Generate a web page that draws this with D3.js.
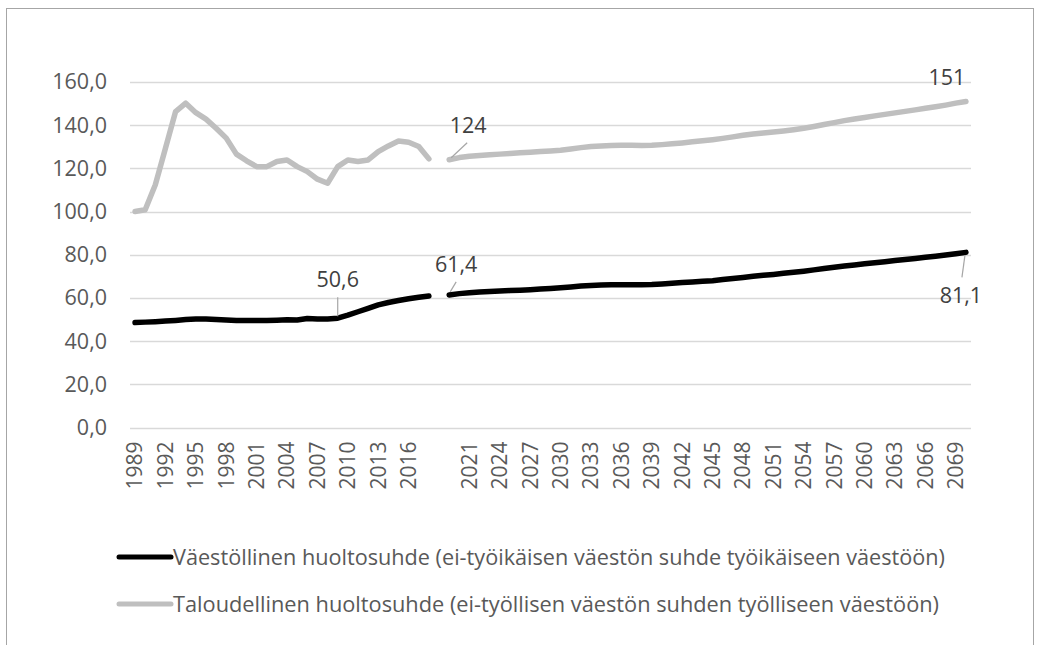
<!DOCTYPE html>
<html>
<head>
<meta charset="utf-8">
<script src="https://cdn.jsdelivr.net/npm/d3@7"></script>
<style>
  body { margin: 0; background: #fff; }
  svg { display: block; font-family: "Open Sans", "Noto Sans", sans-serif; }
</style>
</head>
<body>
<svg id="chart" width="1042" height="645"></svg>
<script>
// categories: historical years, one empty slot, projection years
const histYears = d3.range(1989, 2019);
const projYears = d3.range(2019, 2071);
const categories = [...histYears.map(String), 'gap', ...projYears.map(String)];

// Väestöllinen huoltosuhde (black)
const popHist = [48.6, 48.8, 49.0, 49.3, 49.6, 50.0, 50.2, 50.2, 50.0, 49.8,
  49.6, 49.5, 49.5, 49.6, 49.7, 49.9, 49.8, 50.5, 50.2, 50.3,
  50.6, 52.0, 53.6, 55.2, 56.8, 57.9, 58.8, 59.6, 60.3, 60.9];
const popProj = [61.4, 62.0, 62.4, 62.7, 63.0, 63.2, 63.4, 63.6, 63.8, 64.1,
  64.4, 64.7, 65.1, 65.5, 65.8, 66.0, 66.1, 66.1, 66.1, 66.1,
  66.2, 66.5, 66.8, 67.1, 67.4, 67.7, 68.0, 68.5, 69.0, 69.5,
  70.0, 70.5, 70.9, 71.4, 71.9, 72.4, 73.0, 73.6, 74.2, 74.8,
  75.3, 75.8, 76.3, 76.8, 77.3, 77.8, 78.3, 78.8, 79.3, 79.9,
  80.5, 81.1];

// Taloudellinen huoltosuhde (grey)
const econHist = [100.0, 100.8, 112.4, 129.3, 146.3, 150.2, 145.8, 142.8, 138.6, 134.0,
  126.6, 123.5, 120.8, 120.8, 123.2, 123.9, 120.8, 118.5, 115.0, 113.1,
  120.8, 123.9, 123.2, 123.9, 127.8, 130.4, 132.7, 132.1, 130.1, 124.4];
const econProj = [124.0, 125.0, 125.6, 126.0, 126.3, 126.6, 126.9, 127.2, 127.5, 127.8,
  128.1, 128.4, 129.0, 129.6, 130.1, 130.4, 130.6, 130.7, 130.7, 130.6,
  130.7, 131.0, 131.4, 131.8, 132.3, 132.8, 133.3, 133.9, 134.6, 135.3,
  135.9, 136.4, 136.8, 137.3, 137.9, 138.6, 139.4, 140.3, 141.2, 142.1,
  142.9, 143.6, 144.3, 145.0, 145.7, 146.4, 147.1, 147.8, 148.5, 149.3,
  150.2, 151.0];

const yTicks = [0, 20, 40, 60, 80, 100, 120, 140, 160];
const legendLabels = [
  'Väestöllinen huoltosuhde (ei-työikäisen väestön suhde työikäiseen väestöön)',
  'Taloudellinen huoltosuhde (ei-työllisen väestön suhden työlliseen väestöön)'
];

const svg = d3.select('#chart');

// outer frame
svg.append('rect')
  .attr('x', 6.5).attr('y', 8.5)
  .attr('width', 1027).attr('height', 660)
  .attr('fill', 'none').attr('stroke', '#a6a6a6').attr('stroke-width', 1);

const x = d3.scaleBand().domain(categories).range([130, 971]).padding(0);
const y = d3.scaleLinear().domain([0, 160]).range([427.5, 82]);
const cx = (k) => x(k) + x.bandwidth() / 2;
const fmt = (d) => d.toFixed(1).replace('.', ',');

// gridlines
svg.append('g')
  .selectAll('line')
  .data(yTicks)
  .join('line')
  .attr('x1', 130).attr('x2', 971)
  .attr('y1', (d) => Math.round(y(d)) + 0.5)
  .attr('y2', (d) => Math.round(y(d)) + 0.5)
  .attr('stroke', '#d9d9d9').attr('stroke-width', 1.3);

// y axis labels
const yAxis = svg.append('g')
  .attr('transform', 'translate(130,0)')
  .call(d3.axisLeft(y).tickValues(yTicks).tickFormat(fmt).tickSize(0).tickPadding(23));
yAxis.select('.domain').remove();
yAxis.selectAll('text')
  .attr('fill', '#595959')
  .style('font-size', '21.5px')
  .style('font-family', '"Open Sans", sans-serif');

// x axis labels, every third category, rotated
const xAxis = svg.append('g')
  .attr('transform', 'translate(0,427.5)')
  .call(d3.axisBottom(x)
    .tickValues(categories.filter((d, i) => i % 3 === 0))
    .tickFormat((d) => (d === 'gap' ? '' : d))
    .tickSize(0));
xAxis.select('.domain').remove();
xAxis.selectAll('text')
  .attr('fill', '#595959')
  .style('font-size', '21px')
  .style('font-family', '"Open Sans", sans-serif')
  .attr('text-anchor', 'end')
  .attr('transform', 'rotate(-90)')
  .attr('x', -14)
  .attr('y', 0)
  .attr('dy', '0.35em');

// lines
const line = d3.line()
  .x((d) => cx(d.k))
  .y((d) => y(d.v));

const seriesDefs = [
  { color: '#000000', width: 5.5, parts: [[histYears, popHist], [projYears, popProj]] },
  { color: '#bfbfbf', width: 5.5, parts: [[histYears, econHist], [projYears, econProj]] }
];

seriesDefs.slice().reverse().forEach((s) => {
  s.parts.forEach(([yrs, vals]) => {
    svg.append('path')
      .datum(yrs.map((yr, i) => ({ k: String(yr), v: vals[i] })))
      .attr('d', line)
      .attr('fill', 'none')
      .attr('stroke', s.color)
      .attr('stroke-width', s.width)
      .attr('stroke-linejoin', 'round')
      .attr('stroke-linecap', 'round');
  });
});

// data labels with leader lines
const labels = [
  { k: '2009', v: popHist[20], text: '50,6', dx: 0, dy: -31, l: [0, -2, 0, -21] },
  { k: '2019', v: popProj[0], text: '61,4', dx: 7, dy: -23, l: [1, -3, 7, -13] },
  { k: '2070', v: popProj[popProj.length - 1], text: '81,1', dx: -5, dy: 51, l: [-1, 3, -4, 25] },
  { k: '2019', v: econProj[0], text: '124', dx: 19, dy: -27, l: [2, -2, 18, -17] },
  { k: '2070', v: econProj[econProj.length - 1], text: '151', dx: -19, dy: -16, l: null }
];

labels.forEach((d) => {
  const px = cx(d.k), py = y(d.v);
  if (d.l) {
    svg.append('line')
      .attr('x1', px + d.l[0]).attr('y1', py + d.l[1])
      .attr('x2', px + d.l[2]).attr('y2', py + d.l[3])
      .attr('stroke', '#a6a6a6').attr('stroke-width', 1.2);
  }
  svg.append('text')
    .attr('x', px + d.dx)
    .attr('y', py + d.dy)
    .attr('text-anchor', 'middle')
    .attr('fill', '#404040')
    .style('font-size', '21.5px')
    .text(d.text);
});

// legend
const legendRows = [
  { color: '#000000', text: legendLabels[0], y: 557 },
  { color: '#bfbfbf', text: legendLabels[1], y: 604 }
];
legendRows.forEach((r) => {
  svg.append('line')
    .attr('x1', 119).attr('x2', 171)
    .attr('y1', r.y).attr('y2', r.y)
    .attr('stroke', r.color).attr('stroke-width', 5)
    .attr('stroke-linecap', 'round');
  svg.append('text')
    .attr('x', 173)
    .attr('y', r.y)
    .attr('dy', '0.35em')
    .attr('fill', '#595959')
    .style('font-size', '22px')
    .attr('textLength', r === legendRows[0] ? 772 : 766)
    .attr('lengthAdjust', 'spacingAndGlyphs')
    .text(r.text);
});
</script>
</body>
</html>
